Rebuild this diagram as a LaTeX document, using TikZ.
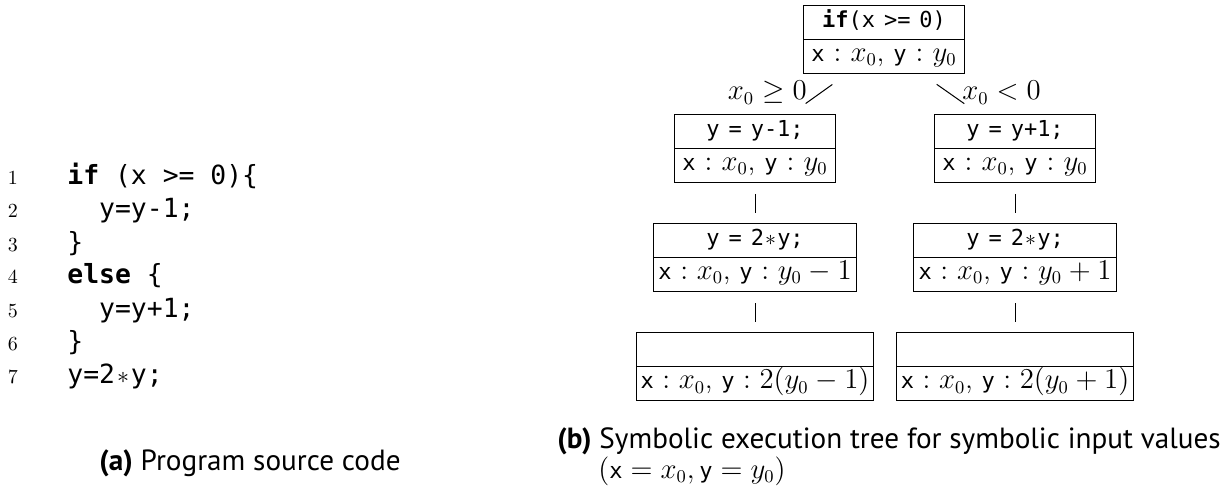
\documentclass[tikz,border=0pt]{standalone}
\usepackage{fontspec}
\setmonofont{DejaVu Sans Mono}
\newfontfamily\capfont{PT Sans}
\usetikzlibrary{shapes.multipart,calc}

% strut that fixes the height of every part of a state box
\newcommand\sv[1]{\rule[-5.6pt]{0pt}{16.2pt}#1}
% program text inside the tree
\newcommand\tv[1]{\mbox{\fontsize{11}{13}\selectfont\ttfamily #1}}
% centred asterisk occupying one monospace column
\newcommand\tast{\makebox[\fontcharwd\font`x]{$\ast$}}

\begin{document}
\begin{tikzpicture}[x=0.5pt,y=-0.5pt,
  every node/.style={font=\fontsize{13.5}{16}\selectfont, inner sep=0pt},
  statebox/.style={rectangle split, rectangle split parts=2, draw,
    line width=0.7pt, inner xsep=0pt, inner ysep=0pt, align=center, anchor=north},
  treeline/.style={line width=0.5pt, shorten <=9pt, shorten >=9pt},
  vline/.style={line width=0.5pt, shorten <=5.5pt, shorten >=5pt},
  codeline/.style={anchor=base west, font=\fontsize{13.2}{16}\selectfont\ttfamily},
  lineno/.style={anchor=base, font=\fontsize{10}{12}\selectfont},
  captext/.style={font=\fontsize{14.6}{17}\selectfont\capfont}]
\useasboundingbox (0,0) rectangle (1225,497);

% ---------- program listing ----------
\node[lineno] (n1) at (13,185) {1};
\node[lineno] (n2) at (13,218) {2};
\node[lineno] (n3) at (13,251) {3};
\node[lineno] (n4) at (13,284) {4};
\node[lineno] (n5) at (13,317) {5};
\node[lineno] (n6) at (13,350) {6};
\node[lineno] (n7) at (13,383) {7};
\node[codeline] (c1) at (67,185) {\textbf{if} (x >= 0)\{};
\node[codeline] (c2) at (67,218) {\ \ y=y-1;};
\node[codeline] (c3) at (67,251) {\}};
\node[codeline] (c4) at (67,284) {\textbf{else} \{};
\node[codeline] (c5) at (67,317) {\ \ y=y+1;};
\node[codeline] (c6) at (67,350) {\}};
\node[codeline] (c7) at (67,383) {y=2\tast y;};
\node[captext, anchor=base] (capa) at (250,470) {\textbf{(a)} Program source code};

% ---------- symbolic execution tree ----------
\node[statebox, text width=80.3pt] (root) at (884,5)
  {\sv{\tv{\textbf{if}(x >= 0)}}\nodepart{two}\sv{$\tv{x}:x_0$, $\tv{y}:y_0$}};

\node[statebox, text width=80.3pt] (l1) at (755,114)
  {\sv{\tv{y = y-1;}}\nodepart{two}\sv{$\tv{x}:x_0$, $\tv{y}:y_0$}};
\node[statebox, text width=80.3pt] (r1) at (1015,114)
  {\sv{\tv{y = y+1;}}\nodepart{two}\sv{$\tv{x}:x_0$, $\tv{y}:y_0$}};

\node[statebox, text width=101.3pt] (l2) at (755,223)
  {\sv{\tv{y = 2\tast y;}}\nodepart{two}\sv{$\tv{x}:x_0$, $\tv{y}:y_0-1$}};
\node[statebox, text width=101.3pt] (r2) at (1015,223)
  {\sv{\tv{y = 2\tast y;}}\nodepart{two}\sv{$\tv{x}:x_0$, $\tv{y}:y_0+1$}};

\node[statebox, text width=118.3pt] (l3) at (755,332)
  {\sv{}\nodepart{two}\sv{$\tv{x}:x_0$, $\tv{y}:2(y_0-1)$}};
\node[statebox, text width=118.3pt] (r3) at (1015,332)
  {\sv{}\nodepart{two}\sv{$\tv{x}:x_0$, $\tv{y}:2(y_0+1)$}};

\draw[treeline] ($(root.south)+(-37,0)$) -- ($(l1.north)+(36,0)$);
\draw[treeline] ($(root.south)+(38,0)$) -- ($(r1.north)+(-36,0)$);
\node[anchor=base east] (lbl) at ($(root.south)+(-77,26)$) {$x_0\geq 0$};
\node[anchor=base west] (lbr) at ($(root.south)+(78,26)$) {$x_0<0$};

\draw[vline] (l1.south) -- (l2.north);
\draw[vline] (r1.south) -- (r2.north);
\draw[vline] (l2.south) -- (l3.north);
\draw[vline] (r2.south) -- (r3.north);

\node[captext, anchor=base west] (capb) at (557,448)
  {\textbf{(b)} Symbolic execution tree for symbolic input values};
\node[anchor=base west] (capb2) at (598,478)
  {$(\tv{x}=x_0,\tv{y}=y_0)$};
\end{tikzpicture}
\end{document}
